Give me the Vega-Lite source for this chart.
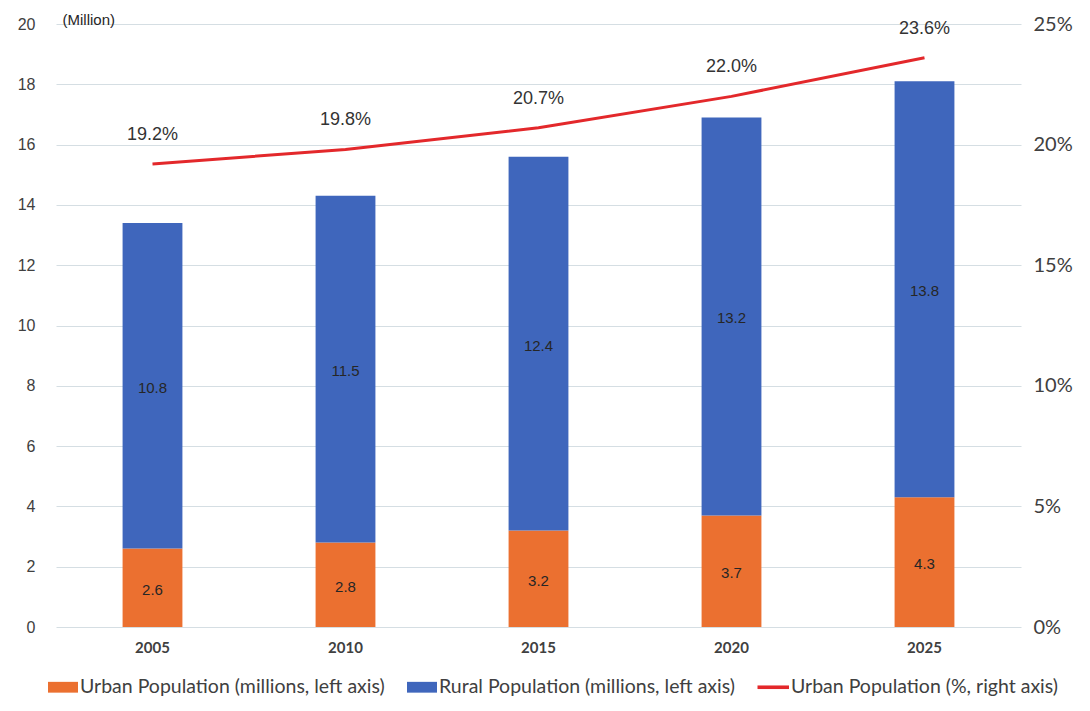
{
  "$schema": "https://vega.github.io/schema/vega-lite/v6.json",
  "width": 965,
  "height": 603,
  "autosize": "none",
  "padding": {"left": 56, "top": 24, "right": 69, "bottom": 84},
  "background": "white",
  "config": {"view": {"stroke": null}, "font": "Liberation Sans"},
  "datasets": {
    "bars": [
      {"year": "2005", "series": "Urban Population (millions, left axis)", "value": 2.6, "order": 1},
      {"year": "2005", "series": "Rural Population (millions, left axis)", "value": 10.8, "order": 2},
      {"year": "2010", "series": "Urban Population (millions, left axis)", "value": 2.8, "order": 1},
      {"year": "2010", "series": "Rural Population (millions, left axis)", "value": 11.5, "order": 2},
      {"year": "2015", "series": "Urban Population (millions, left axis)", "value": 3.2, "order": 1},
      {"year": "2015", "series": "Rural Population (millions, left axis)", "value": 12.4, "order": 2},
      {"year": "2020", "series": "Urban Population (millions, left axis)", "value": 3.7, "order": 1},
      {"year": "2020", "series": "Rural Population (millions, left axis)", "value": 13.2, "order": 2},
      {"year": "2025", "series": "Urban Population (millions, left axis)", "value": 4.3, "order": 1},
      {"year": "2025", "series": "Rural Population (millions, left axis)", "value": 13.8, "order": 2}
    ],
    "line": [
      {"year": "2005", "series": "Urban Population (%, right axis)", "pct": 0.192},
      {"year": "2010", "series": "Urban Population (%, right axis)", "pct": 0.198},
      {"year": "2015", "series": "Urban Population (%, right axis)", "pct": 0.207},
      {"year": "2020", "series": "Urban Population (%, right axis)", "pct": 0.220},
      {"year": "2025", "series": "Urban Population (%, right axis)", "pct": 0.236}
    ]
  },
  "encoding": {
    "x": {
      "field": "year",
      "type": "ordinal",
      "scale": {"paddingInner": 0, "paddingOuter": 0},
      "axis": {
        "title": null,
        "labelAngle": 0,
        "labelFont": "Lato",
        "labelFontWeight": "bold",
        "labelFontSize": 15,
        "labelColor": "#404040",
        "labelPadding": 13,
        "ticks": false,
        "domain": false,
        "grid": false
      }
    }
  },
  "layer": [
    {
      "data": {"name": "bars"},
      "layer": [
        {
          "mark": {"type": "bar", "width": {"band": 0.31}},
          "encoding": {
            "y": {
              "field": "value",
              "type": "quantitative",
              "stack": "zero",
              "scale": {"domain": [0, 20], "nice": false},
              "axis": {
                "title": "(Million)",
                "titleAngle": 0,
                "titleX": 6,
                "titleY": -5,
                "titleAlign": "left",
                "titleBaseline": "middle",
                "titleFont": "Liberation Sans",
                "titleFontWeight": "normal",
                "titleFontSize": 15,
                "titleColor": "#262626",
                "values": [0, 2, 4, 6, 8, 10, 12, 14, 16, 18, 20],
                "labelFont": "Liberation Sans",
                "labelFontSize": 16,
                "labelColor": "#404040",
                "labelPadding": 21,
                "ticks": false,
                "domain": false,
                "grid": true,
                "gridColor": "#D5DEE3",
                "gridWidth": 1
              }
            },
            "color": {
              "field": "series",
              "type": "nominal",
              "scale": {
                "domain": [
                  "Urban Population (millions, left axis)",
                  "Rural Population (millions, left axis)",
                  "Urban Population (%, right axis)"
                ],
                "range": ["#EB7030", "#3F66BC", "#E3282B"]
              },
              "legend": {
                "orient": "none",
                "legendX": -8,
                "legendY": 648,
                "direction": "horizontal",
                "title": null,
                "symbolType": "M-1,-0.36H1V0.36H-1Z",
                "symbolSize": 900,
                "symbolStrokeWidth": 0,
                "labelFont": "Lato",
                "labelFontSize": 19.5,
                "labelColor": "#404040",
                "labelOffset": 2,
                "labelLimit": 400,
                "columnPadding": 22,
                "encode": {
                  "symbols": {
                    "update": {
                      "shape": {"signal": "datum.value == 'Urban Population (%, right axis)' ? 'M-1.1,-0.12H1V0.12H-1.1Z' : 'M-1,-0.36H1V0.36H-1Z'"},
                      "fill": {"scale": "color", "field": "value"},
                      "strokeWidth": {"value": 0}
                    }
                  }
                }
              }
            },
            "order": {"field": "order"}
          }
        },
        {
          "transform": [
            {"stack": "value", "groupby": ["year"], "sort": [{"field": "order"}], "as": ["v0", "v1"]},
            {"calculate": "(datum.v0 + datum.v1) / 2", "as": "mid"}
          ],
          "mark": {"type": "text", "fontSize": 15, "dy": 2, "color": "#262626", "font": "Liberation Sans"},
          "encoding": {
            "y": {"field": "mid", "type": "quantitative"},
            "text": {"field": "value", "type": "quantitative", "format": ".1f"}
          }
        }
      ]
    },
    {
      "data": {"name": "line"},
      "layer": [
        {
          "mark": {"type": "line", "strokeWidth": 3},
          "encoding": {
            "y": {
              "field": "pct",
              "type": "quantitative",
              "scale": {"domain": [0, 0.25], "nice": false},
              "axis": {
                "orient": "right",
                "title": null,
                "format": ".0%",
                "values": [0, 0.05, 0.1, 0.15, 0.2, 0.25],
                "labelFont": "Lato",
                "labelFontSize": 20,
                "labelColor": "#404040",
                "labelPadding": 12,
                "ticks": false,
                "domain": false,
                "grid": false
              }
            },
            "color": {"field": "series", "type": "nominal"}
          }
        },
        {
          "mark": {"type": "text", "dy": -29, "fontSize": 18, "color": "#333333", "font": "Liberation Sans"},
          "encoding": {
            "y": {"field": "pct", "type": "quantitative"},
            "text": {"field": "pct", "type": "quantitative", "format": ".1%"}
          }
        }
      ]
    }
  ],
  "resolve": {"scale": {"y": "independent"}}
}
